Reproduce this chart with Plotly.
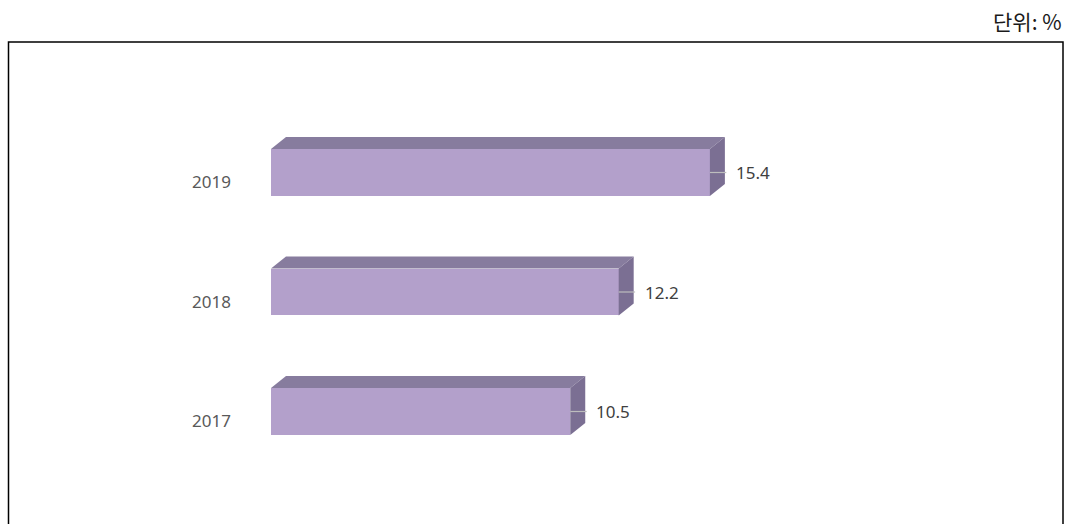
import plotly.graph_objects as go

# Data
years = ["2017", "2018", "2019"]
values = [10.5, 12.2, 15.4]
unit_text = "단위: %"

# Styling
FRONT = "#b3a0cb"
TOP = "#877c9e"
SIDE = "#7b6f93"
BAR_W = 0.393          # bar thickness in category units
DX, DY = 0.526, 0.10   # 3D depth offset (x units, category units)

W, H = 1070, 524
L, R, T, B = 271, 70, 50, 0
PX_PER_UNIT = 28.5
PX_PER_CAT = 119.5
plot_w = W - L - R
plot_h = H - T - B
x_range = [0, plot_w / PX_PER_UNIT]
y_top = 2 + (172.5 - T) / PX_PER_CAT
y_range = [y_top - plot_h / PX_PER_CAT, y_top]

fig = go.Figure()
ypos = list(range(len(years)))

# front faces
fig.add_trace(go.Bar(
    x=values, y=ypos, orientation="h", width=BAR_W,
    marker=dict(color=FRONT, line=dict(width=0)),
    hoverinfo="skip", showlegend=False,
))

# top and side faces of each bar
for y, v in zip(ypos, values):
    y0, y1 = y - BAR_W / 2, y + BAR_W / 2
    fig.add_trace(go.Scatter(
        x=[0, v, v + DX, DX, 0], y=[y1, y1, y1 + DY, y1 + DY, y1],
        fill="toself", fillcolor=TOP, line=dict(width=0), mode="lines",
        hoverinfo="skip", showlegend=False,
    ))
    fig.add_trace(go.Scatter(
        x=[v, v + DX, v + DX, v, v], y=[y0, y0 + DY, y1 + DY, y1, y0],
        fill="toself", fillcolor=SIDE, line=dict(width=0), mode="lines",
        hoverinfo="skip", showlegend=False,
    ))
    # leader line to the value label
    fig.add_shape(type="line", x0=v, x1=v + DX + 0.05, y0=y, y1=y,
                  line=dict(color="#bdbdbd", width=1.2))
    fig.add_annotation(x=v, y=y, text=f"{v:.1f}", showarrow=False,
                       xanchor="left", xshift=24,
                       font=dict(family="Noto Sans", size=17, color="#404040"))

# category labels
for y, name in zip(ypos, years):
    fig.add_annotation(x=0, y=y, text=name, showarrow=False,
                       xanchor="right", xshift=-38, yshift=-9,
                       font=dict(family="Noto Sans", size=17, color="#595959"))

# outer frame (open at the bottom)
def px_to_paper_x(px):
    return (px - L) / plot_w

def px_to_paper_y(py):
    return (H - B - py) / plot_h

fx0, fx1 = px_to_paper_x(8.5), px_to_paper_x(1063)
fy0, fy1 = px_to_paper_y(560), px_to_paper_y(42)
fig.add_shape(type="path", xref="paper", yref="paper",
              path=f"M {fx0} {fy0} L {fx0} {fy1} L {fx1} {fy1} L {fx1} {fy0}",
              line=dict(color="#000000", width=1.5))

# unit note
fig.add_annotation(xref="paper", yref="paper", x=px_to_paper_x(1064),
                   y=px_to_paper_y(21), text=unit_text, showarrow=False,
                   xanchor="right", yanchor="middle",
                   font=dict(family="Noto Sans CJK KR", size=21, color="#1a1a1a"))

fig.update_layout(
    width=W, height=H,
    margin=dict(l=L, r=R, t=T, b=B),
    plot_bgcolor="white", paper_bgcolor="white",
    xaxis=dict(range=x_range, visible=False, fixedrange=True),
    yaxis=dict(range=y_range, visible=False, fixedrange=True),
    bargap=0,
)

fig.write_html("out.html", config={"displayModeBar": False})
